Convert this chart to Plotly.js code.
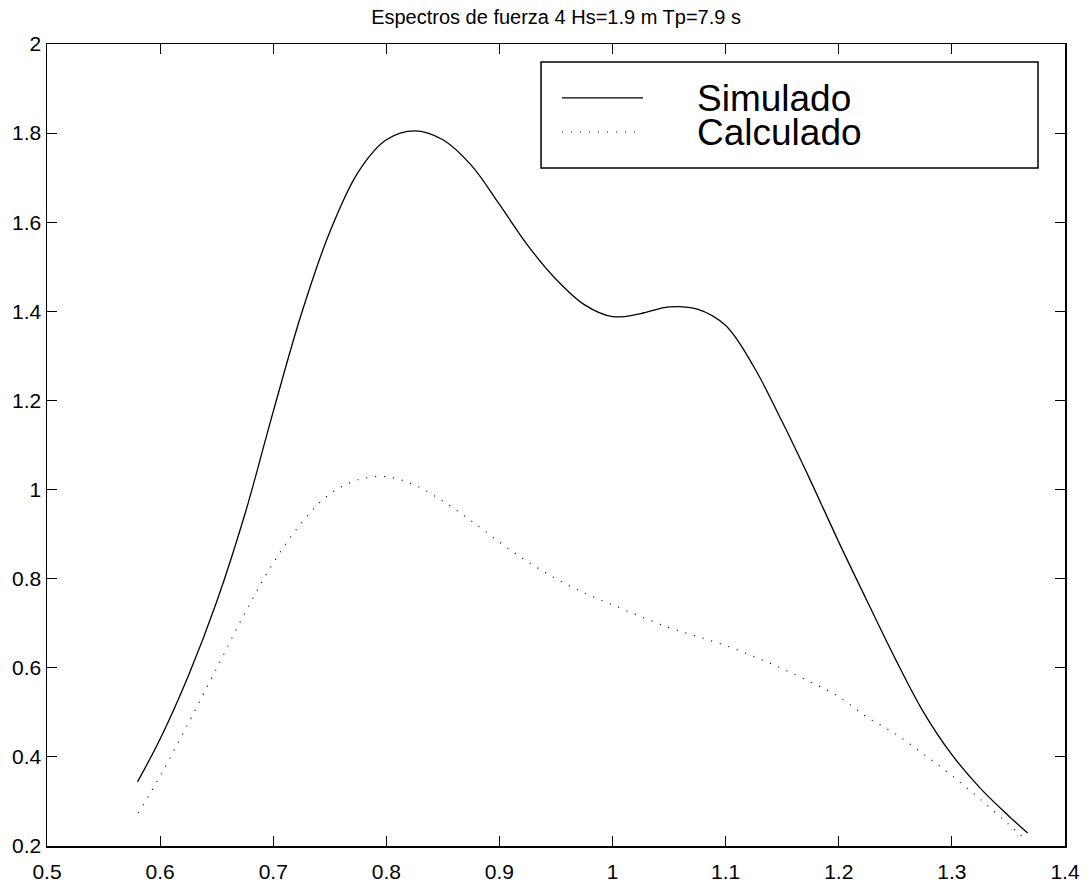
<!DOCTYPE html>
<html>
<head>
<meta charset="utf-8">
<script src="https://cdn.plot.ly/plotly-3.0.1.min.js"></script>
<style>html,body{margin:0;padding:0;background:#fff;}#chart{width:1089px;height:882px;}</style>
</head>
<body>
<div id="chart"></div>
<script>
// Simulado (solid)
const simX = [0.580, 0.600, 0.625, 0.650, 0.675, 0.700, 0.725, 0.750, 0.775, 0.800, 0.825, 0.850, 0.875, 0.900, 0.925, 0.950, 0.975, 1.000, 1.025, 1.050, 1.075, 1.100, 1.125, 1.150, 1.175, 1.200, 1.225, 1.250, 1.275, 1.300, 1.325, 1.350, 1.367];
const simY = [0.344, 0.440, 0.582, 0.748, 0.945, 1.175, 1.395, 1.578, 1.712, 1.785, 1.805, 1.785, 1.728, 1.640, 1.548, 1.472, 1.415, 1.388, 1.395, 1.410, 1.405, 1.368, 1.275, 1.152, 1.020, 0.882, 0.750, 0.620, 0.500, 0.405, 0.330, 0.268, 0.229];
// Calculado (dotted)
const calX = [0.5807, 0.600, 0.625, 0.650, 0.675, 0.700, 0.725, 0.750, 0.775, 0.800, 0.825, 0.850, 0.875, 0.900, 0.925, 0.950, 0.975, 1.000, 1.025, 1.050, 1.075, 1.100, 1.125, 1.150, 1.175, 1.200, 1.225, 1.250, 1.275, 1.300, 1.325, 1.350, 1.3656];
const calY = [0.274, 0.357, 0.476, 0.599, 0.723, 0.835, 0.925, 0.990, 1.022, 1.029, 1.010, 0.974, 0.930, 0.882, 0.838, 0.800, 0.768, 0.741, 0.715, 0.690, 0.670, 0.650, 0.625, 0.598, 0.568, 0.535, 0.489, 0.452, 0.406, 0.358, 0.305, 0.249, 0.214];

const titleText = 'Espectros de fuerza 4 Hs=1.9 m Tp=7.9 s';
const seriesNames = ['Simulado', 'Calculado'];
const xTicks = [0.5, 0.6, 0.7, 0.8, 0.9, 1.0, 1.1, 1.2, 1.3, 1.4];
const yTicks = [0.2, 0.4, 0.6, 0.8, 1.0, 1.2, 1.4, 1.6, 1.8, 2.0];

const FONT = 'Liberation Sans, Arial, Helvetica, sans-serif';

const traces = [
  {x: simX, y: simY, type: 'scatter', mode: 'lines', name: seriesNames[0],
   line: {color: '#000', width: 1.3, shape: 'spline', smoothing: 1}, showlegend: false},
  {x: calX, y: calY, type: 'scatter', mode: 'lines', name: seriesNames[1],
   line: {color: '#000', width: 1.2, shape: 'spline', smoothing: 1, dash: '1px,8px'}, showlegend: false}
];

// legend geometry in paper coords
const lg = {x0: 0.4853, x1: 0.9735, y0: 0.8454, y1: 0.9776, lx0: 0.5059, lx1: 0.5855, ly1: 0.9327, ly2: 0.8903, tx: 0.6365};

const layout = {
  width: 1089, height: 882,
  margin: {l: 47, r: 24, t: 44, b: 36, pad: 0},
  paper_bgcolor: '#fff', plot_bgcolor: '#fff',
  font: {family: FONT, color: '#000', size: 21},
  title: {text: titleText, font: {family: FONT, size: 20, color: '#000'}, x: 0.5106, xanchor: 'center', y: 0.981, yanchor: 'middle'},
  xaxis: {range: [0.5, 1.4], tickvals: xTicks, ticktext: xTicks.map(v => String(+v.toFixed(1))),
          ticks: 'inside', ticklen: 10, tickwidth: 1, tickcolor: '#000', showline: true, linecolor: '#000', linewidth: 1.5,
          mirror: 'ticks', showgrid: false, zeroline: false, tickfont: {family: FONT, size: 21, color: '#000'}, ticklabelstandoff: 6},
  yaxis: {range: [0.2, 2.0], tickvals: yTicks, ticktext: yTicks.map(v => String(+v.toFixed(1))),
          ticks: 'inside', ticklen: 10, tickwidth: 1, tickcolor: '#000', showline: true, linecolor: '#000', linewidth: 1.5,
          mirror: 'ticks', showgrid: false, zeroline: false, tickfont: {family: FONT, size: 21, color: '#000'}, ticklabelstandoff: 0},
  shapes: [
    {type: 'rect', xref: 'paper', yref: 'paper', x0: lg.x0, x1: lg.x1, y0: lg.y0, y1: lg.y1, line: {color: '#000', width: 1.5}, fillcolor: '#fff', layer: 'above'},
    {type: 'line', xref: 'paper', yref: 'paper', x0: lg.lx0, x1: lg.lx1, y0: lg.ly1, y1: lg.ly1, line: {color: '#000', width: 1.2}, layer: 'above'},
    {type: 'line', xref: 'paper', yref: 'paper', x0: lg.lx0, x1: lg.lx1, y0: lg.ly2, y1: lg.ly2, line: {color: '#000', width: 1.2, dash: '1px,8px'}, layer: 'above'}
  ],
  annotations: [
    {xref: 'paper', yref: 'paper', x: lg.tx, y: lg.ly1, xanchor: 'left', yanchor: 'middle', height: 32, valign: 'middle', text: seriesNames[0], showarrow: false, font: {family: FONT, size: 37, color: '#000'}},
    {xref: 'paper', yref: 'paper', x: lg.tx, y: lg.ly2, xanchor: 'left', yanchor: 'middle', height: 32, valign: 'middle', text: seriesNames[1], showarrow: false, font: {family: FONT, size: 37, color: '#000'}}
  ],
  showlegend: false
};

Plotly.newPlot('chart', traces, layout, {staticPlot: true, displayModeBar: false});
</script>
</body>
</html>
